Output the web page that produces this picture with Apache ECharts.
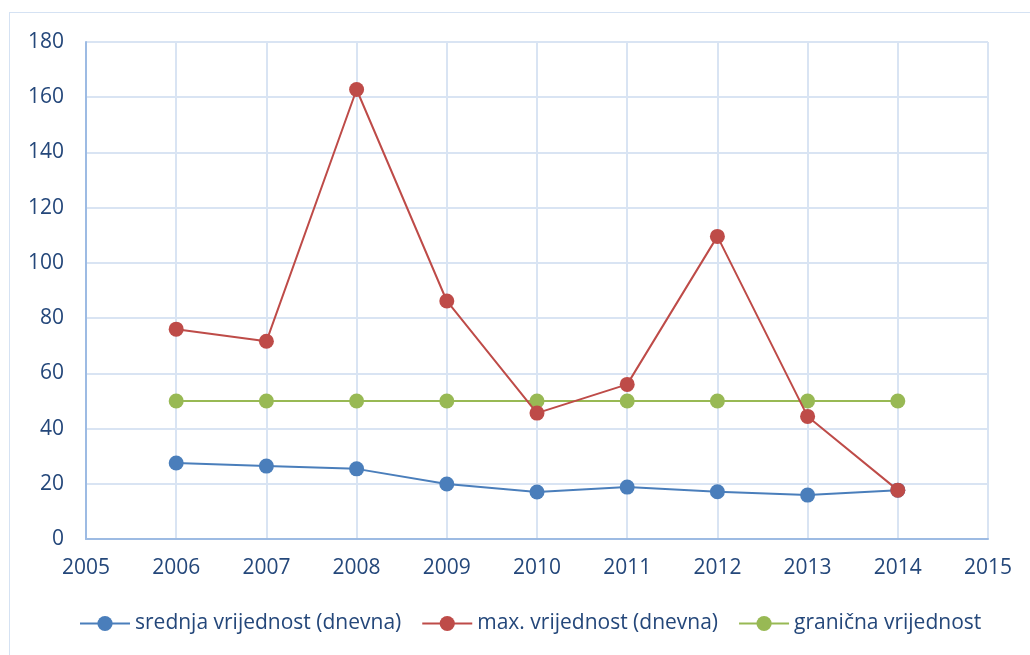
<!DOCTYPE html>
<html>
<head>
<meta charset="utf-8">
<script src="https://cdn.jsdelivr.net/npm/echarts@6/dist/echarts.min.js"></script>
<style>
  html, body { margin: 0; padding: 0; background: #fff; }
  #frame { position: absolute; left: 9px; top: 12px; width: 1030px; height: 650px; border: 1px solid #d5e2f3; box-sizing: border-box; }
  #charts { position: absolute; left: 0; top: 0; width: 1030px; height: 655px; }
</style>
</head>
<body>
<div id="frame"></div>
<div id="charts"></div>
<script>
// data
const years = [2006, 2007, 2008, 2009, 2010, 2011, 2012, 2013, 2014];
const srednja = [27.5, 26.4, 25.4, 19.9, 17.0, 18.8, 17.1, 15.9, 17.7];
const maxVal = [76.0, 71.6, 162.8, 86.2, 45.6, 56.0, 109.6, 44.4, 17.7];
const granicna = [50, 50, 50, 50, 50, 50, 50, 50, 50];
const seriesNames = ['srednja vrijednost (dnevna)', 'max. vrijednost (dnevna)', 'granična vrijednost'];
const colors = ['#4a7ebb', '#be4b48', '#98b954'];

const myChart = echarts.init(document.getElementById('charts'));

const textColor = '#24477a';
const font = 'Open Sans, Liberation Sans, sans-serif';

function pairs(vals) {
  return years.map((y, i) => [y, vals[i]]);
}

const option = {
  animation: false,
  color: colors,
  textStyle: { fontFamily: font },
  grid: { left: 86, right: 42, top: 42, bottom: 116 },
  xAxis: {
    type: 'value',
    min: 2005,
    max: 2015,
    interval: 1,
    axisLine: { lineStyle: { color: '#9dbbe3', width: 2 } },
    axisTick: { show: false },
    axisLabel: { color: textColor, fontSize: 21, margin: 19, fontFamily: font, formatter: v => String(v) },
    splitLine: { lineStyle: { color: '#d9e4f3', width: 2 } }
  },
  yAxis: {
    type: 'value',
    min: 0,
    max: 180,
    interval: 20,
    axisLine: { show: true, lineStyle: { color: '#9dbbe3', width: 2 } },
    axisTick: { show: false },
    axisLabel: { color: textColor, fontSize: 21, margin: 22, fontFamily: font },
    splitLine: { lineStyle: { color: '#d9e4f3', width: 2 } }
  },
  legend: {
    bottom: 16,
    left: 74,
    itemWidth: 50,
    itemHeight: 19,
    itemGap: 20,
    textStyle: { color: textColor, fontSize: 21, fontFamily: font },
    data: seriesNames
  },
  series: [
    {
      name: seriesNames[0],
      type: 'line',
      data: pairs(srednja),
      symbol: 'circle',
      symbolSize: 15,
      lineStyle: { width: 2 },
      z: 3
    },
    {
      name: seriesNames[1],
      type: 'line',
      data: pairs(maxVal),
      symbol: 'circle',
      symbolSize: 15,
      lineStyle: { width: 2 },
      z: 4
    },
    {
      name: seriesNames[2],
      type: 'line',
      data: pairs(granicna),
      symbol: 'circle',
      symbolSize: 15,
      lineStyle: { width: 2 },
      z: 2
    }
  ]
};

myChart.setOption(option);
</script>
</body>
</html>
